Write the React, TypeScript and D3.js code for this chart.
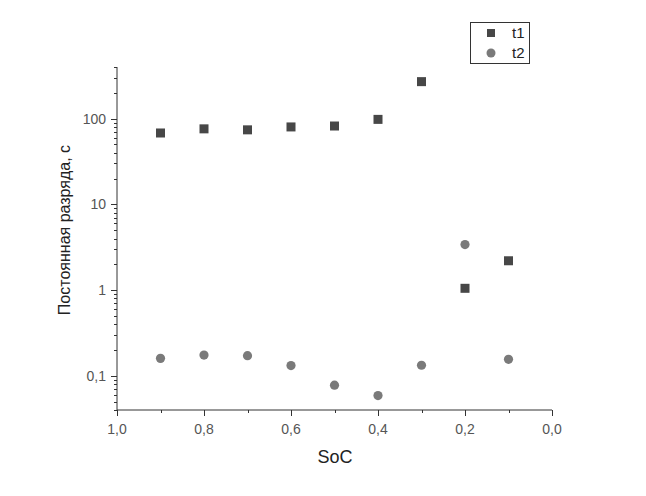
import React, { useEffect, useRef } from "react";
import * as d3 from "d3";

const soc = [0.9, 0.8, 0.7, 0.6, 0.5, 0.4, 0.3, 0.2, 0.1];
const t1 = [68, 76, 74, 80, 82, 98, 270, 1.05, 2.2];
const t2 = [0.16, 0.175, 0.172, 0.132, 0.078, 0.059, 0.133, 3.4, 0.156];
const xTicks = [1.0, 0.8, 0.6, 0.4, 0.2, 0.0];
const yTicks = [0.1, 1, 10, 100];

const W = 646;
const H = 496;

export default function App() {
  const ref = useRef<SVGSVGElement>(null);

  useEffect(() => {
    const svg = d3.select(ref.current);
    svg.selectAll("*").remove();
    const font = "'Liberation Sans', Arial, sans-serif";
    const axisColor = "#333";

    const x = d3.scaleLinear().domain([1.0, 0.0]).range([117, 552]);
    const y = d3.scaleLog().domain([0.04, 400]).range([410, 67]);

    // minor ticks on the log axis
    const minor: number[] = [];
    [0.01, 0.1, 1, 10, 100].forEach((d) => {
      for (let k = 2; k <= 9; k++) {
        const v = d * k;
        if (v >= 0.04 && v <= 400) minor.push(v);
      }
    });

    const g = svg.append("g");

    // y axis
    g.append("line")
      .attr("x1", x(1)).attr("x2", x(1))
      .attr("y1", y(0.04)).attr("y2", y(400))
      .attr("stroke", axisColor);
    g.selectAll(".ymin")
      .data(minor)
      .join("line")
      .attr("x1", x(1) - 3).attr("x2", x(1))
      .attr("y1", (d) => Math.round(y(d)) + 0.5)
      .attr("y2", (d) => Math.round(y(d)) + 0.5)
      .attr("stroke", axisColor);
    g.selectAll(".ymaj")
      .data(yTicks)
      .join("line")
      .attr("x1", x(1) - 6).attr("x2", x(1))
      .attr("y1", (d) => Math.round(y(d)) + 0.5)
      .attr("y2", (d) => Math.round(y(d)) + 0.5)
      .attr("stroke", axisColor);
    g.selectAll(".ylab")
      .data(yTicks)
      .join("text")
      .attr("x", x(1) - 11)
      .attr("y", (d) => y(d))
      .attr("dy", "0.35em")
      .attr("text-anchor", "end")
      .attr("font-family", font)
      .attr("font-size", 14)
      .attr("fill", "#555")
      .text((d) => String(d).replace(".", ","));

    // x axis
    g.append("line")
      .attr("x1", x(1)).attr("x2", x(0))
      .attr("y1", y(0.04)).attr("y2", y(0.04))
      .attr("stroke", axisColor);
    const xMinor = d3.range(0, 11).map((i) => i / 10);
    g.selectAll(".xmin")
      .data(xMinor)
      .join("line")
      .attr("x1", (d) => Math.round(x(d)) + 0.5)
      .attr("x2", (d) => Math.round(x(d)) + 0.5)
      .attr("y1", y(0.04)).attr("y2", y(0.04) + 3)
      .attr("stroke", axisColor);
    g.selectAll(".xmaj")
      .data(xTicks)
      .join("line")
      .attr("x1", (d) => Math.round(x(d)) + 0.5)
      .attr("x2", (d) => Math.round(x(d)) + 0.5)
      .attr("y1", y(0.04)).attr("y2", y(0.04) + 6)
      .attr("stroke", axisColor);
    g.selectAll(".xlab")
      .data(xTicks)
      .join("text")
      .attr("x", (d) => x(d))
      .attr("y", y(0.04) + 24)
      .attr("text-anchor", "middle")
      .attr("font-family", font)
      .attr("font-size", 14)
      .attr("fill", "#555")
      .text((d) => d.toFixed(1).replace(".", ","));

    // axis titles
    g.append("text")
      .attr("x", 335)
      .attr("y", 463)
      .attr("text-anchor", "middle")
      .attr("font-family", font)
      .attr("font-size", 18)
      .attr("fill", "#222")
      .text("SoC");
    g.append("text")
      .attr("transform", `translate(70, 230) rotate(-90)`)
      .attr("text-anchor", "middle")
      .attr("font-family", font)
      .attr("font-size", 16)
      .attr("fill", "#222")
      .text("Постоянная разряда, с");

    // t1 squares
    const s = 9;
    g.selectAll(".t1")
      .data(soc.map((v, i) => [v, t1[i]]))
      .join("rect")
      .attr("x", (d) => x(d[0]) - s / 2)
      .attr("y", (d) => y(d[1]) - s / 2)
      .attr("width", s)
      .attr("height", s)
      .attr("fill", "#474747");

    // t2 circles
    g.selectAll(".t2")
      .data(soc.map((v, i) => [v, t2[i]]))
      .join("circle")
      .attr("cx", (d) => x(d[0]))
      .attr("cy", (d) => y(d[1]))
      .attr("r", 4.6)
      .attr("fill", "#7a7a7a");

    // legend
    const leg = g.append("g");
    leg.append("rect")
      .attr("x", 470.5).attr("y", 22.5)
      .attr("width", 59).attr("height", 41)
      .attr("fill", "white")
      .attr("stroke", "#333");
    leg.append("rect")
      .attr("x", 487).attr("y", 29)
      .attr("width", 8).attr("height", 8)
      .attr("fill", "#474747");
    leg.append("circle")
      .attr("cx", 491).attr("cy", 53)
      .attr("r", 4.5)
      .attr("fill", "#7a7a7a");
    leg.append("text")
      .attr("x", 512).attr("y", 33)
      .attr("dy", "0.35em")
      .attr("font-family", font)
      .attr("font-size", 15)
      .attr("fill", "#222")
      .text("t1");
    leg.append("text")
      .attr("x", 512).attr("y", 53)
      .attr("dy", "0.35em")
      .attr("font-family", font)
      .attr("font-size", 15)
      .attr("fill", "#222")
      .text("t2");
  }, []);

  return (
    <svg
      ref={ref}
      width={W}
      height={H}
      style={{ position: "absolute", left: 0, top: 0, background: "white" }}
    />
  );
}
